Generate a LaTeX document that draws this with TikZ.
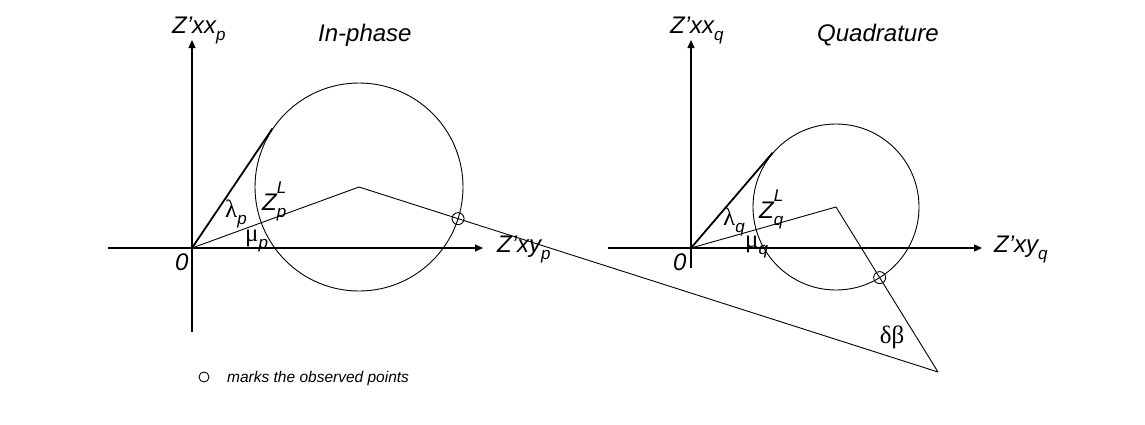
\documentclass[tikz,border=0pt]{standalone}
\usepackage{fontspec}
\setmainfont{Liberation Sans}
\newfontfamily\grk{Liberation Serif}
\usetikzlibrary{arrows.meta,calc}
\newcommand{\lsub}[1]{\raisebox{-0.3em}{\fontsize{17}{17}\selectfont #1}}
\newcommand{\lsup}[1]{\raisebox{0.68em}{\fontsize{17}{17}\selectfont #1}}
\newcommand{\lgrk}[1]{{\grk\upshape\fontsize{25}{28}\selectfont #1}}

\begin{document}
\begin{tikzpicture}[x=1pt,y=-1pt,>={Triangle[length=8pt,width=7pt]},every node/.style={font=\fontsize{24}{28}\selectfont\itshape,inner sep=0pt},
  axis/.style={line width=1.2pt,->},thinline/.style={line width=0.9pt},obs/.style={draw,circle,minimum size=12pt,line width=0.9pt}]
\useasboundingbox (0,0) rectangle (1145,424);
\coordinate (o1) at (192,248);\coordinate (o2) at (691,248);\coordinate (b) at (938,372);
% in-phase
\coordinate (xlo1) at (108,248);\coordinate (xhi1) at (483,248);\coordinate (ylo1) at (192,332);\coordinate (yhi1) at (192,40);
\draw[axis] (xlo1)--(xhi1);\draw[axis] (ylo1)--(yhi1);
\node[anchor=base west] (lxx1) at (172,33) {Z’xx\lsub{p}};
\node[anchor=base west] (ttl1) at (318,41) {In-phase};
\node[anchor=base west] (lxy1) at (497,252) {Z’xy\lsub{p}};
\node[anchor=base west] (zero1) at (175,270) {0};
\node[circle,draw,thinline,minimum size=208pt] (c1) at (359,187) {};
\coordinate (t1) at (tangent cs:node=c1,point={(o1)},solution=2);
\draw[line width=1.8pt] (o1)--(t1);
\draw[thinline] (o1)--(c1.center)--(b);
\node[obs] (m1) at ($(c1.center)!104pt!(b)$) {};
\node[anchor=base west] (lam1) at (225,217) {\lgrk{λ}\lsub{p}};
\node[anchor=base west] (zl1) at (262,210) {Z\rlap{\lsup{L}}\lsub{p}};
\node[anchor=base west] (mu1) at (245,241) {\lgrk{μ}\lsub{p}};
% quadrature
\coordinate (xlo2) at (608,248);\coordinate (xhi2) at (982,248);\coordinate (ylo2) at (691,268);\coordinate (yhi2) at (691,40);
\draw[axis] (xlo2)--(xhi2);\draw[axis] (ylo2)--(yhi2);
\node[anchor=base west] (lxx2) at (670,33) {Z’xx\lsub{q}};
\node[anchor=base west] (ttl2) at (817,41) {Quadrature};
\node[anchor=base west] (lxy2) at (994,252) {Z’xy\lsub{q}};
\node[anchor=base west] (zero2) at (673,270) {0};
\node[circle,draw,thinline,minimum size=166pt] (c2) at (836,207) {};
\coordinate (t2) at (tangent cs:node=c2,point={(o2)},solution=2);
\draw[line width=1.8pt] (o2)--(t2);
\draw[thinline] (o2)--(c2.center)--(b);
\node[obs] (m2) at ($(c2.center)!83pt!(b)$) {};
\node[anchor=base west] (lam2) at (723,225) {\lgrk{λ}\lsub{q}};
\node[anchor=base west] (zl2) at (759,218) {Z\rlap{\lsup{L}}\lsub{q}};
\node[anchor=base west] (mu2) at (745,247) {\lgrk{μ}\lsub{q}};
\node (db) at (892,337) {\lgrk{δβ}};
% legend
\node[obs,minimum size=10pt] (lgm) at (204,377) {};
\node[anchor=west,font=\fontsize{15.5}{18}\selectfont\itshape] (lgt) at (227,378) {marks the observed points};
\end{tikzpicture}
\end{document}
